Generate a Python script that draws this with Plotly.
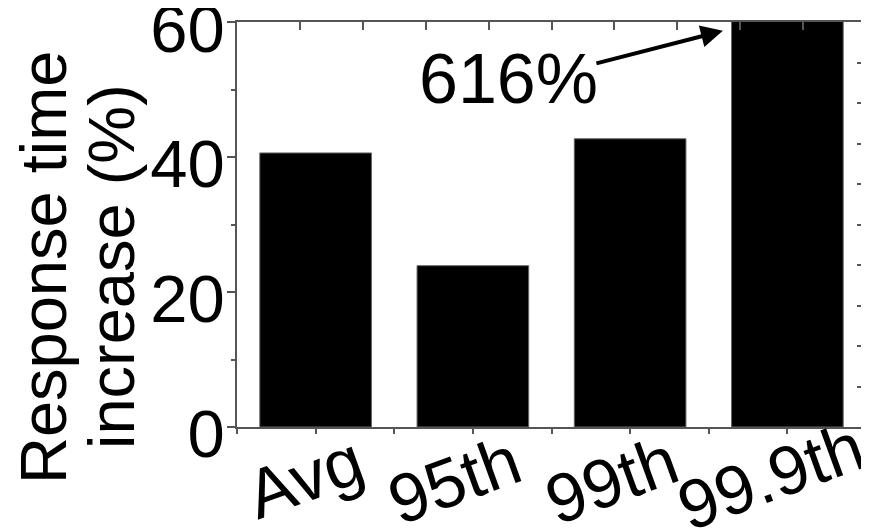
import plotly.graph_objects as go

categories = ["Avg", "95th", "99th", "99.9th"]
values = [40.6, 23.9, 42.7, 616]
annotation_text = "616%"
y_title_lines = ["Response time", "increase (%)"]

positions = [2 * i + 1 for i in range(len(categories))]
tickvals = list(range(0, 2 * len(categories) + 1))
# first three category labels on the main axis, the last on its own overlay axis
ticktext = ["" if (v % 2 == 0 or v == positions[-1]) else categories[(v - 1) // 2] for v in tickvals]

FONT = "Liberation Sans, Arial, sans-serif"
AX = "#555555"

# the page body adds an 8px offset; compensate in size/margins
fig = go.Figure()
fig.add_trace(go.Bar(
    x=positions, y=values, width=1.42,
    marker=dict(color="black", line=dict(color="#666666", width=1)),
    showlegend=False,
))

fig.update_layout(
    width=861, height=524,
    margin=dict(l=229, r=3, t=14, b=105),
    plot_bgcolor="white", paper_bgcolor="white",
    font=dict(family=FONT, color="black"),
    xaxis=dict(
        range=[0, 8], tickvals=tickvals, ticktext=ticktext,
        ticks="outside", ticklen=5, tickwidth=1.5, tickcolor=AX,
        showline=True, linecolor=AX, linewidth=1.5,
        showgrid=False, zeroline=False, automargin=False,
        tickangle=-20, tickfont=dict(size=69, family=FONT),
        ticklabelshift=41, ticklabelstandoff=-35, ticklabeloverflow="allow",
    ),
    xaxis3=dict(
        overlaying="x", side="bottom", range=[0, 8],
        tickvals=[positions[-1]], ticktext=[categories[-1]],
        ticks="", showline=False, showgrid=False, zeroline=False, automargin=False,
        tickangle=-20, tickfont=dict(size=69, family=FONT),
        ticklabelshift=70, ticklabelstandoff=-29, ticklabeloverflow="allow",
    ),
    yaxis=dict(
        range=[0, 60], dtick=20,
        ticks="outside", ticklen=8, tickwidth=1.5, tickcolor=AX,
        minor=dict(dtick=10, ticks="outside", ticklen=4, tickwidth=1.5, tickcolor=AX),
        showline=True, linecolor=AX, linewidth=1.5,
        showgrid=False, zeroline=False, automargin=False,
        tickfont=dict(size=67, family=FONT),
        ticklabelshift=7, ticklabelstandoff=-11, ticklabeloverflow="allow",
    ),
    xaxis2=dict(
        overlaying="x", side="top", range=[0, 10], dtick=1,
        ticks="inside", ticklen=8, tickwidth=1.5, tickcolor=AX,
        showticklabels=False, showline=True, linecolor=AX, linewidth=1.5,
        showgrid=False, zeroline=False,
    ),
    yaxis2=dict(
        overlaying="y", side="right", range=[0, 10], dtick=1,
        ticks="inside", ticklen=9, tickwidth=1.5, tickcolor=AX,
        showticklabels=False, showline=True, linecolor=AX, linewidth=1.5,
        showgrid=False, zeroline=False,
    ),
)

# invisible traces to activate secondary axes
fig.add_trace(go.Scatter(x=[0], y=[0], xaxis="x2", yaxis="y2", mode="markers",
                         marker=dict(opacity=0), showlegend=False, hoverinfo="skip"))
fig.add_trace(go.Scatter(x=[0], y=[0], xaxis="x3", yaxis="y", mode="markers",
                         marker=dict(opacity=0), showlegend=False, hoverinfo="skip"))

# y-axis title (two lines, tight spacing)
fig.add_annotation(x=0, y=0.395, xref="paper", yref="paper", text=y_title_lines[0],
                   textangle=-90, showarrow=False, xanchor="center", yanchor="middle",
                   xshift=-194, font=dict(size=65, family=FONT, color="black"))
fig.add_annotation(x=0, y=0.395, xref="paper", yref="paper", text=y_title_lines[1],
                   textangle=-90, showarrow=False, xanchor="center", yanchor="middle",
                   xshift=-126, font=dict(size=65, family=FONT, color="black"))

fig.add_annotation(x=3.45, y=51.6, xref="x", yref="y", text=annotation_text,
                   showarrow=False, font=dict(size=70, family=FONT, color="black"))
fig.add_annotation(x=6.18, y=58.7, xref="x", yref="y", ax=-128, ay=33, text="",
                   showarrow=True, arrowhead=2, arrowwidth=4, arrowsize=1.1,
                   arrowcolor="black", standoff=0)

fig.write_html("out.html")
